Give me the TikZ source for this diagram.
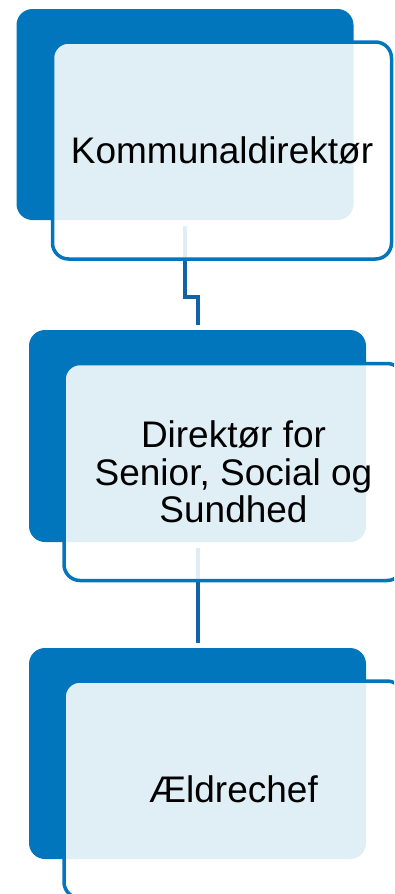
\documentclass[tikz,border=0pt]{standalone}
\usepackage{fontspec}
\setmainfont{Liberation Sans}
\usepackage{tikz}
\usetikzlibrary{positioning, calc}

\definecolor{boxblue}{RGB}{2,118,189}
\definecolor{linkblue}{RGB}{16,100,165}

\begin{document}
\begin{tikzpicture}[x=1pt, y=-1pt, on grid,
    back/.style={fill=boxblue, rounded corners=16pt, inner sep=0pt, minimum width=337pt, minimum height=211pt},
    front/.style={fill=white, fill opacity=.88, text opacity=1, draw=boxblue, line width=3.5pt, rounded corners=16pt,
        inner sep=0pt, minimum width=339pt, minimum height=217pt, align=center, font=\fontsize{37}{37.5}\selectfont},
    link/.style={draw=linkblue, line width=4pt, shorten <=6pt, shorten >=5pt}]
                \useasboundingbox (0,0) rectangle (394,894);
                \clip (0,0) rectangle (394,894);
                \node[back] (B1) at (185,114.5) {};
                \node[back, minimum height=212pt] (B2) at (197.5,436) {};
                \node[back] (B3) at (197.5,753.5) {};
                \draw[link] (B1.south) -- ++(0,77) -| (B2.north);
                \draw[link] (B2.south) -- (B3.north);
                \node[front, below right=36pt and 37pt of B1] (F1) {Kommunaldirektør};
                \node[front, below right=36pt and 36pt of B2] (F2) {Direktør for\\Senior, Social og\\Sundhed};
                \node[front, below right=36pt and 36pt of B3] (F3) {Ældrechef};
        \end{tikzpicture}
\end{document}
